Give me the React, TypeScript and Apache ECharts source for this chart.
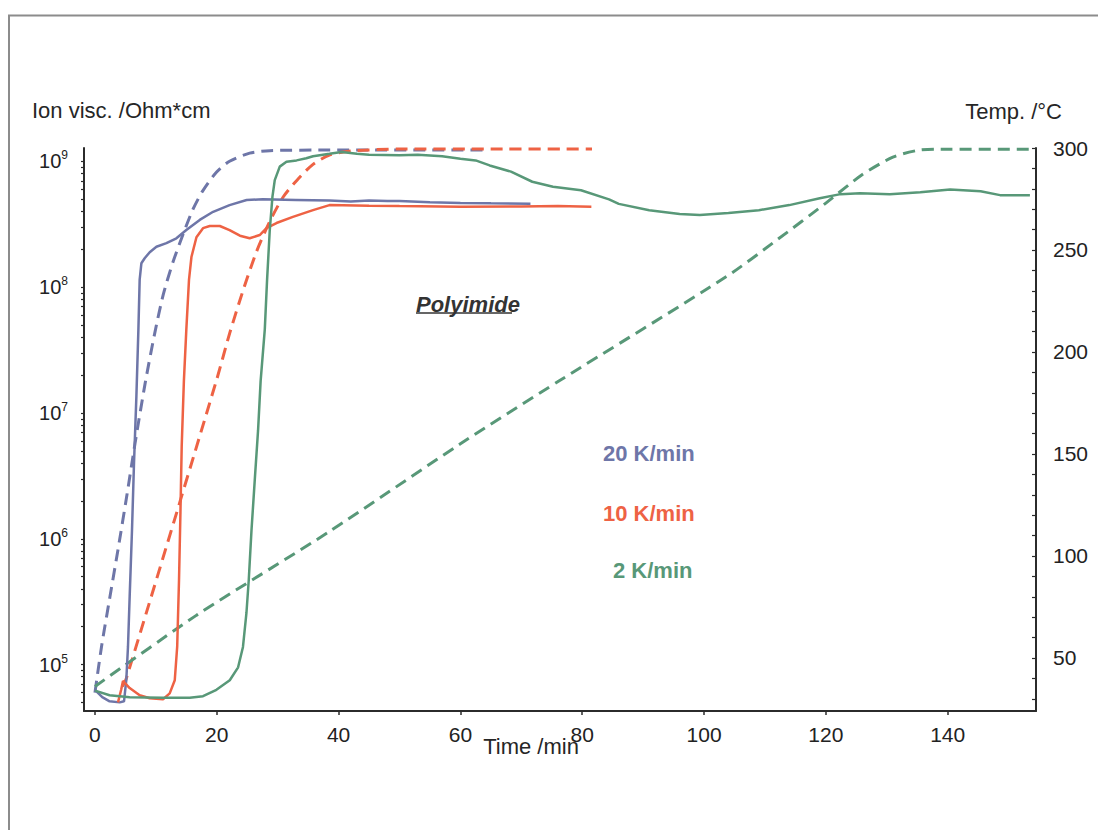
import React, { useEffect, useRef } from 'react';
import * as echarts from 'echarts';

const FONT = '"Liberation Sans", Arial, Helvetica, sans-serif';
const BLUE = '#6e76a8';
const ORANGE = '#ee6244';
const GREEN = '#589878';
const AXIS = '#2b2b2b';

// Tick labels / tick positions
const xLabelValues = [0, 20, 40, 60, 80, 100, 120, 140];
const leftLabelValues = [1e5, 1e6, 1e7, 1e8, 1e9];
const leftTickValues = [
  5e4, 6e4, 7e4, 8e4, 9e4,
  1e5, 2e5, 3e5, 4e5, 5e5, 6e5, 7e5, 8e5, 9e5,
  1e6, 2e6, 3e6, 4e6, 5e6, 6e6, 7e6, 8e6, 9e6,
  1e7, 2e7, 3e7, 4e7, 5e7, 6e7, 7e7, 8e7, 9e7,
  1e8, 2e8, 3e8, 4e8, 5e8, 6e8, 7e8, 8e8, 9e8,
  1e9,
];
const rightLabelValues = [50, 100, 150, 200, 250, 300];
const rightTickValues = [30, 40, 50, 60, 70, 80, 90, 100, 110, 120, 130, 140, 150, 160, 170, 180, 190, 200, 210, 220, 230, 240, 250, 260, 270, 280, 290, 300];

// 20 K/min – ion viscosity (Ohm*cm)
const blueViscT = [0, 1.2, 2.4, 4.06, 4.77, 5.15, 5.42, 5.7, 6.08, 6.41, 6.8, 7.13, 7.34, 7.62, 8.16, 8.99, 10.09, 11.73, 13.37, 15.0, 17.2, 19.4, 22.1, 24.9, 27.55, 33, 38.5, 42, 45, 48, 50, 55, 60, 65, 71.5];
const blueViscV = [6.3e4, 5.5e4, 5.1e4, 5.0e4, 5.1e4, 7.6e4, 1.38e5, 3.5e5, 1.17e6, 4.0e6, 1.35e7, 4.6e7, 1.15e8, 1.55e8, 1.7e8, 1.9e8, 2.1e8, 2.24e8, 2.45e8, 2.85e8, 3.43e8, 3.98e8, 4.5e8, 4.94e8, 5.0e8, 4.95e8, 4.9e8, 4.8e8, 4.9e8, 4.85e8, 4.84e8, 4.73e8, 4.68e8, 4.65e8, 4.62e8];

// 10 K/min – ion viscosity
const orangeViscT = [3.78, 4.3, 4.6, 5.7, 7.34, 8.99, 11.17, 12.27, 13.1, 13.5, 13.8, 14.03, 14.24, 14.6, 15.0, 15.44, 15.84, 16.66, 17.74, 18.84, 20.5, 22.1, 23.8, 25.4, 27.05, 28.16, 29.8, 32.5, 35.8, 38.5, 45, 50, 60, 70, 76, 81.5];
const orangeViscV = [5.0e4, 6.3e4, 7.4e4, 6.5e4, 5.7e4, 5.4e4, 5.3e4, 5.9e4, 7.5e4, 1.39e5, 4.7e5, 1.58e6, 5.4e6, 1.8e7, 4.6e7, 1.15e8, 1.74e8, 2.5e8, 2.95e8, 3.07e8, 3.07e8, 2.85e8, 2.57e8, 2.45e8, 2.6e8, 2.95e8, 3.24e8, 3.63e8, 4.1e8, 4.5e8, 4.45e8, 4.42e8, 4.37e8, 4.38e8, 4.42e8, 4.37e8];

// 2 K/min – ion viscosity
const greenViscT = [0, 2.4, 5.7, 11.17, 15.56, 17.74, 19.94, 22.13, 23.5, 24.3, 24.87, 25.25, 25.7, 26.24, 26.78, 27.2, 27.88, 28.26, 28.7, 29.14, 29.52, 30.34, 31.44, 33.1, 34.7, 35.8, 36.9, 38.5, 40.5, 43, 45, 50, 53, 57, 60, 62.5, 64.8, 68.3, 71.8, 75.2, 79.8, 84.4, 86, 91, 96, 99.3, 104, 109, 114, 119, 122.4, 125.6, 130.5, 135.5, 140.4, 145.4, 148.6, 153.5];
const greenViscV = [6.2e4, 5.7e4, 5.5e4, 5.45e4, 5.45e4, 5.6e4, 6.3e4, 7.5e4, 9.5e4, 1.38e5, 2.57e5, 4.7e5, 1.17e6, 2.95e6, 7.3e6, 1.8e7, 4.6e7, 1.15e8, 2.85e8, 5.25e8, 7.1e8, 9.1e8, 9.95e8, 1.02e9, 1.06e9, 1.1e9, 1.12e9, 1.15e9, 1.19e9, 1.15e9, 1.13e9, 1.12e9, 1.13e9, 1.1e9, 1.05e9, 1.02e9, 9.3e8, 8.3e8, 6.9e8, 6.3e8, 5.9e8, 5.0e8, 4.6e8, 4.1e8, 3.83e8, 3.76e8, 3.9e8, 4.1e8, 4.5e8, 5.1e8, 5.5e8, 5.6e8, 5.5e8, 5.7e8, 6.0e8, 5.8e8, 5.4e8, 5.4e8];

// Temperatures (°C)
const blueTempT = [0, 1.1, 2.46, 3.83, 5.2, 6.57, 8.2, 9.8, 11.2, 12.8, 14.5, 16.1, 17.7, 19.9, 22.1, 25.4, 28.7, 38.5, 64];
const blueTempV = [33, 56, 80, 104, 129, 155, 184, 209, 228, 244, 258, 270, 279, 288, 293.5, 297.5, 298.7, 299, 299];
const orangeTempT = [4.5, 5.15, 19.94, 22.1, 24.3, 26.5, 28.7, 30.9, 33.1, 35.8, 38.5, 42, 50, 65, 81.6];
const orangeTempV = [36, 40, 186, 209, 230, 249, 264, 276, 284, 292, 296.5, 298.5, 299.5, 299.5, 299.5];
const greenTempT = [0, 16.7, 38.5, 60, 76.3, 103.7, 112, 120, 126, 131, 135, 138, 154.5];
const greenTempV = [36, 71, 112, 155, 186, 237, 255, 273, 287, 295.5, 298.8, 299.4, 299.4];

const zip = (t: number[], v: number[]) => t.map((x, i) => [x, v[i]]);

const solid = (name: string, color: string, t: number[], v: number[]) => ({
  name, type: 'line', yAxisIndex: 0, data: zip(t, v), symbol: 'none', showSymbol: false,
  lineStyle: { color, width: 2.5 }, itemStyle: { color }, z: 3,
});
const dashed = (name: string, color: string, t: number[], v: number[]) => ({
  name, type: 'line', yAxisIndex: 1, data: zip(t, v), symbol: 'none', showSymbol: false,
  smooth: 0.25,
  lineStyle: { color, width: 3, type: [12, 7] }, itemStyle: { color }, z: 2,
});

const text = (str: string, x: number, y: number, opts: any = {}) => ({
  type: 'text', x, y, silent: true,
  style: {
    text: str, fill: opts.fill || '#262626', fontSize: opts.fontSize || 22,
    fontFamily: FONT, fontWeight: opts.fontWeight || 'normal', fontStyle: opts.fontStyle || 'normal',
    align: opts.align || 'left', textAlign: opts.align || 'left',
    verticalAlign: 'middle', textVerticalAlign: 'middle',
  },
});

export default function App() {
  const ref = useRef<HTMLDivElement>(null);
  useEffect(() => {
    const chart = echarts.init(ref.current!, null, { renderer: 'svg' });
    const option: any = {
      animation: false,
      backgroundColor: '#ffffff',
      textStyle: { fontFamily: FONT },
      grid: { left: 84, right: 62, top: 148, bottom: 119, containLabel: false },
      xAxis: {
        type: 'value', min: -1.8, max: 154.5,
        axisLine: { show: true, onZero: false, lineStyle: { color: AXIS, width: 2 } },
        axisTick: { show: true, inside: false, length: 4, customValues: xLabelValues, lineStyle: { color: AXIS, width: 1.5 } },
        axisLabel: { customValues: xLabelValues, margin: 13, fontSize: 21, color: '#222', fontFamily: FONT },
        splitLine: { show: false },
      },
      yAxis: [
        {
          type: 'log', logBase: 10, min: 4.27e4, max: 1.28e9, position: 'left',
          axisLine: { show: true, onZero: false, lineStyle: { color: AXIS, width: 2 } },
          axisTick: { show: true, inside: false, length: 3, customValues: leftTickValues, lineStyle: { color: AXIS, width: 1.2 } },
          axisLabel: {
            customValues: leftLabelValues, margin: 16, color: '#222',
            formatter: (v: number) => `{b|10}{s|${Math.round(Math.log10(v))}}`,
            rich: {
              b: { fontSize: 20, fontFamily: FONT, color: '#222', lineHeight: 24 },
              s: { fontSize: 12, fontFamily: FONT, color: '#222', verticalAlign: 'top', lineHeight: 14 },
            },
          },
          splitLine: { show: false },
          minorTick: { show: false },
        },
        {
          type: 'value', min: 24, max: 300, position: 'right',
          axisLine: { show: true, onZero: false, lineStyle: { color: AXIS, width: 2 } },
          axisTick: { show: true, inside: true, length: 4, customValues: rightTickValues, lineStyle: { color: AXIS, width: 1.2 } },
          axisLabel: { customValues: rightLabelValues, margin: 17, fontSize: 21, color: '#222', fontFamily: FONT },
          splitLine: { show: false },
        },
      ],
      series: [
        dashed('20 K/min Temp', BLUE, blueTempT, blueTempV),
        dashed('10 K/min Temp', ORANGE, orangeTempT, orangeTempV),
        dashed('2 K/min Temp', GREEN, greenTempT, greenTempV),
        solid('20 K/min Ion visc.', BLUE, blueViscT, blueViscV),
        solid('10 K/min Ion visc.', ORANGE, orangeViscT, orangeViscV),
        solid('2 K/min Ion visc.', GREEN, greenViscT, greenViscV),
      ],
      graphic: [
        {
          type: 'rect', silent: true, z: -10,
          shape: { x: 9, y: 15.5, width: 1300, height: 1000 },
          style: { fill: 'none', stroke: '#8c8c8c', lineWidth: 2 },
        },
        text('Ion visc. /Ohm*cm', 32, 110),
        text('Temp. /°C', 1062, 111, { align: 'right' }),
        text('Time /min', 531, 746, { align: 'center' }),
        text('Polyimide', 416, 304, { fontWeight: 'bold', fontStyle: 'italic', fill: '#333' }),
        {
          type: 'line', silent: true,
          shape: { x1: 416, y1: 313, x2: 512, y2: 313 },
          style: { stroke: '#333', lineWidth: 1.6 },
        },
        text('20 K/min', 603, 453, { fontWeight: 'bold', fill: BLUE }),
        text('10 K/min', 603, 513, { fontWeight: 'bold', fill: ORANGE }),
        text('2 K/min', 613, 570, { fontWeight: 'bold', fill: GREEN }),
      ],
    };
    chart.setOption(option);
    return () => chart.dispose();
  }, []);
  return (
    <div
      ref={ref}
      style={{ position: 'fixed', left: 0, top: 0, width: 1098, height: 830, background: '#fff' }}
    />
  );
}
